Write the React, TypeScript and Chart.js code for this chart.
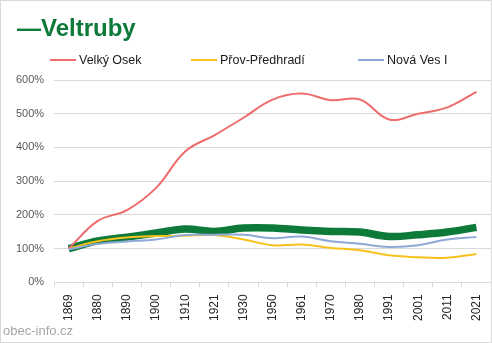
import React, { useEffect, useRef } from "react";
import { Chart, registerables } from "chart.js";

Chart.register(...registerables);

const years = ["1869", "1880", "1890", "1900", "1910", "1921", "1930", "1950", "1961", "1970", "1980", "1991", "2001", "2011", "2021"];
const velkyOsek = [100, 182, 214, 280, 388, 436, 488, 542, 560, 540, 542, 483, 500, 519, 565];
const prov = [100, 122, 133, 137, 138, 140, 127, 110, 112, 102, 95, 80, 74, 73, 84];
const novaVes = [97, 114, 121, 127, 140, 141, 141, 131, 136, 122, 114, 105, 110, 127, 134];
const veltruby = [100, 123, 134, 146, 158, 151, 161, 161, 155, 151, 149, 136, 141, 149, 163];
const yTicks = [0, 100, 200, 300, 400, 500, 600];

const FONT = "'Liberation Sans', Arial, sans-serif";

export default function App() {
  const ref = useRef<HTMLCanvasElement>(null);
  useEffect(() => {
    document.body.style.margin = "0";
    const chart = new Chart(ref.current!, {
      type: "line",
      data: {
        labels: years,
        datasets: [
          { label: "Veltruby", data: veltruby, borderColor: "#0E7A3A", borderWidth: 7.5, order: 10 },
          { label: "Velký Osek", data: velkyOsek, borderColor: "#EE6C6C", borderWidth: 2, order: 1 },
          { label: "Přov-Předhradí", data: prov, borderColor: "#F7C21C", borderWidth: 2, order: 1 },
          { label: "Nová Ves I", data: novaVes, borderColor: "#8EA9D8", borderWidth: 2, order: 0 },
        ].map((d) => ({ ...d, pointRadius: 0, tension: 0.4, fill: false, backgroundColor: d.borderColor })),
      },
      options: {
        animation: false,
        responsive: false,
        layout: { padding: { left: 5, right: 0, top: 79, bottom: 14 } },
        plugins: { legend: { display: false }, title: { display: false }, tooltip: { enabled: false } },
        scales: {
          x: {
            offset: true,
            afterFit: (s: any) => { s.paddingLeft = 0; s.paddingRight = 0; },
            grid: { offset: true, drawOnChartArea: false, drawTicks: true, tickLength: 5, color: "#d9d9d9" },
            border: { color: "#d9d9d9" },
            ticks: { minRotation: 90, maxRotation: 90, color: "#262626", font: { family: FONT, size: 12 }, padding: 7, autoSkip: false },
          },
          y: {
            min: 0,
            max: 600,
            afterBuildTicks: (s: any) => { s.ticks = yTicks.map((v) => ({ value: v })); },
            grid: { color: "#d9d9d9", drawTicks: false },
            border: { display: false },
            ticks: { color: "#595959", font: { family: FONT, size: 11 }, padding: 10, callback: (v: any) => v + "%" },
          },
        },
      },
    });
    return () => chart.destroy();
  }, []);

  const legend = [
    { label: "Velký Osek", color: "#EE6C6C", x: 49 },
    { label: "Přov-Předhradí", color: "#F7C21C", x: 190 },
    { label: "Nová Ves I", color: "#8EA9D8", x: 357 },
  ];

  return (
    <div style={{ position: "fixed", left: 0, top: 0, width: 492, height: 343, background: "#fff", boxSizing: "border-box", border: "1px solid #d9d9d9", fontFamily: FONT }}>
      <canvas ref={ref} width={490} height={341} style={{ position: "absolute", left: 0, top: 0 }} />
      <div style={{ position: "absolute", left: 16, top: 12, fontSize: 24, fontWeight: "bold", color: "#0E7A3A", lineHeight: "30px", whiteSpace: "nowrap" }}>—Veltruby</div>
      {legend.map((l) => (
        <div key={l.label} style={{ position: "absolute", left: l.x, top: 50, height: 18, display: "flex", alignItems: "center", whiteSpace: "nowrap" }}>
          <span style={{ display: "inline-block", width: 26, height: 2, background: l.color, marginRight: 3 }} />
          <span style={{ fontSize: 12.5, color: "#1a1a1a" }}>{l.label}</span>
        </div>
      ))}
      <div style={{ position: "absolute", left: 2, top: 322, fontSize: 13, color: "#a6a6a6", whiteSpace: "nowrap" }}>obec-info.cz</div>
    </div>
  );
}
